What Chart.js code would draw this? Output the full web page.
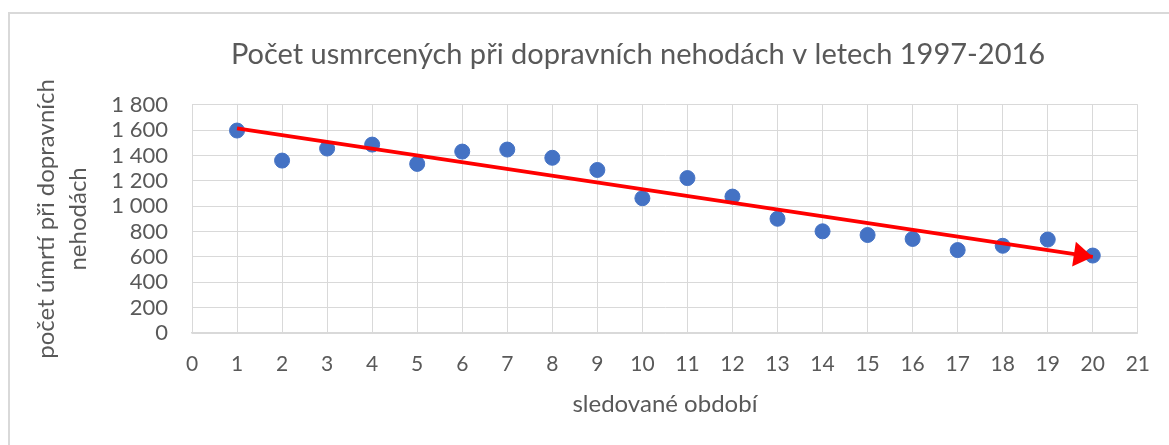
<!DOCTYPE html>
<html>
<head>
<meta charset="utf-8">
<script src="https://cdn.jsdelivr.net/npm/chart.js@4/dist/chart.umd.min.js"></script>
<style>
  body { margin: 0; background: #fff; }
  #wrap { position: relative; width: 1169px; height: 445px; overflow: hidden; }
  #frame { position: absolute; left: 8px; top: 12px; width: 1200px; height: 480px; border: 2px solid #d9d9d9; box-sizing: border-box; }
  #myChart { position: absolute; left: 0; top: 0; }
</style>
</head>
<body>
<div id="wrap">
  <div id="frame"></div>
  <canvas id="myChart" width="1169" height="445"></canvas>
</div>
<script>
// sledované období 1..20 (roky 1997-2016)
var periods = [1, 2, 3, 4, 5, 6, 7, 8, 9, 10, 11, 12, 13, 14, 15, 16, 17, 18, 19, 20];
var deaths = [1597, 1360, 1455, 1486, 1334, 1431, 1447, 1382, 1286, 1063, 1222, 1076, 901, 802, 773, 742, 654, 688, 737, 611];
// red trend arrow, start and end
var trendX = [1, 20];
var trendY = [1615, 600];

var xTicks = [0, 21, 1];
var yTicks = [0, 1800, 200];

var gray = '#595959';
var gridColor = '#d9d9d9';
var fontName = 'Lato, "Open Sans", sans-serif';

function fmt(v) {
    return String(v).replace(/\B(?=(\d{3})+(?!\d))/g, ' ');
}

// arrow head at the end of the trend line
var arrowHead = {
    id: 'arrowHead',
    afterDatasetsDraw: function(chart) {
        var pts = chart.getDatasetMeta(1).data;
        if (pts.length < 2) return;
        var a = pts[pts.length - 2], b = pts[pts.length - 1];
        var ang = Math.atan2(b.y - a.y, b.x - a.x);
        var len = 19, half = 12.5;
        var c = chart.ctx;
        c.save();
        c.translate(b.x, b.y);
        c.rotate(ang);
        c.fillStyle = '#ff0000';
        c.beginPath();
        c.moveTo(0, 0);
        c.lineTo(-len, -half);
        c.lineTo(-len, half);
        c.closePath();
        c.fill();
        c.restore();
    }
};

// the title in the original sits a bit right of the canvas centre
var titleShift = {
    id: 'titleShift',
    afterLayout: function(chart) {
        var t = chart.titleBlock;
        if (!t) return;
        t.left = 137;
        t.width = t.right - t.left;
    }
};

var trendData = trendX.map(function(x, i) { return {x: x, y: trendY[i]}; });
var pointData = periods.map(function(x, i) { return {x: x, y: deaths[i]}; });

var ctx = document.getElementById('myChart').getContext('2d');
var myChart = new Chart(ctx, {
    type: 'scatter',
    data: {
        datasets: [{
            label: 'počet úmrtí',
            data: pointData,
            backgroundColor: '#4472c4',
            borderColor: '#4472c4',
            pointRadius: 7.5,
            order: 2
        },
        {
            label: 'trend',
            type: 'line',
            data: trendData,
            borderColor: '#ff0000',
            borderWidth: 3.8,
            pointRadius: 0,
            fill: false,
            order: 1
        }]
    },
    options: {
        responsive: false,
        animation: false,
        layout: { padding: { left: 0, right: 30, top: 0, bottom: 0 } },
        plugins: {
            legend: { display: false },
            tooltip: { enabled: false },
            title: {
                display: true,
                text: 'Počet usmrcených při dopravních nehodách v letech 1997-2016',
                color: gray,
                font: { family: fontName, size: 29, weight: 'normal', lineHeight: 1.2 },
                padding: { top: 37, bottom: 33 }
            }
        },
        scales: {
            x: {
                type: 'linear',
                min: xTicks[0],
                max: xTicks[1],
                afterFit: function(s) { s.height = 445 - 333; },
                ticks: { stepSize: xTicks[2], color: gray, padding: 19, font: { family: fontName, size: 21 } },
                grid: { color: gridColor, drawTicks: false, lineWidth: 1 },
                border: { color: gridColor, width: 1.5 },
                title: {
                    display: true,
                    text: 'sledované období',
                    color: gray,
                    font: { family: fontName, size: 24, lineHeight: 1.2 },
                    padding: { top: 0, bottom: 26 }
                }
            },
            y: {
                min: yTicks[0],
                max: yTicks[1],
                afterFit: function(s) { s.width = 192; },
                ticks: {
                    stepSize: yTicks[2],
                    autoSkip: false,
                    color: gray,
                    padding: 24,
                    font: { family: fontName, size: 22 },
                    callback: function(v) { return fmt(v); }
                },
                grid: { color: gridColor, drawTicks: false, lineWidth: 1 },
                border: { color: gridColor, width: 1 },
                title: {
                    display: true,
                    text: ['počet úmrtí při dopravních', 'nehodách'],
                    color: gray,
                    font: { family: fontName, size: 24, lineHeight: 1.35 },
                    padding: { top: 30, bottom: 0 }
                }
            }
        }
    },
    plugins: [arrowHead, titleShift]
});
</script>
</body>
</html>
